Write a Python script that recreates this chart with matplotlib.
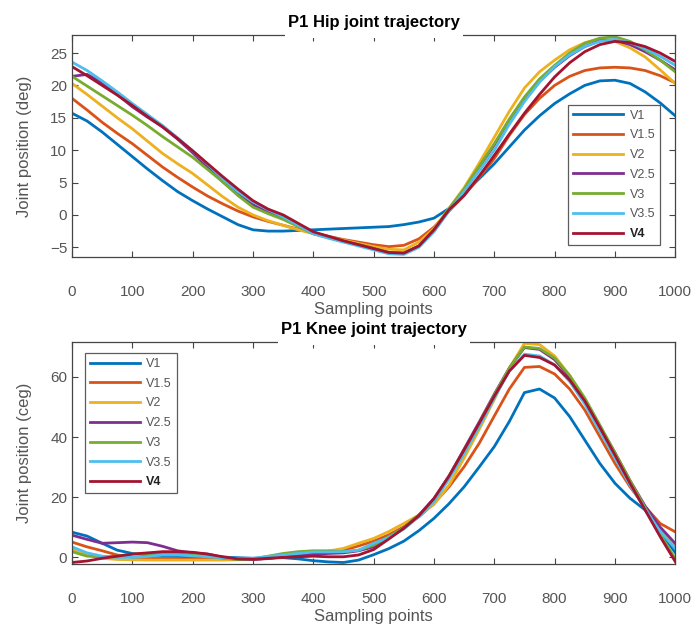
import matplotlib.pyplot as plt
from matplotlib.patches import Rectangle

plt.rcParams['font.family'] = ['Liberation Sans', 'DejaVu Sans']

# sampling points (every 25)
samples = list(range(0, 1001, 25))
labels = ['V1', 'V1.5', 'V2', 'V2.5', 'V3', 'V3.5', 'V4']
colors = ['#0072BD', '#D95319', '#EDB120', '#7E2F8E', '#77AC30', '#4DBEEE', '#A2142F']

# hip joint trajectory (deg)
hip_v1 = [15.7, 14.5, 12.8, 10.9, 9.0, 7.1, 5.3, 3.6, 2.2, 0.9, -0.3, -1.5, -2.3, -2.5, -2.5, -2.4, -2.3, -2.2, -2.1, -2.0,
          -1.9, -1.8, -1.5, -1.1, -0.5, 1.0, 3.3, 5.6, 7.9, 10.5, 13.1, 15.3, 17.2, 18.7, 20.0, 20.7, 20.8, 20.3, 19.0, 17.3, 15.3]
hip_v15 = [18.0, 16.2, 14.3, 12.6, 11.0, 9.2, 7.4, 5.8, 4.3, 2.9, 1.7, 0.6, -0.3, -1.0, -1.6, -2.2, -2.8, -3.3, -3.8, -4.2,
           -4.6, -4.9, -4.7, -3.7, -1.9, 0.6, 3.0, 5.8, 8.7, 12.3, 15.5, 18.0, 20.0, 21.4, 22.3, 22.7, 22.8, 22.7, 22.3, 21.5, 20.4]
hip_v2 = [20.3, 18.6, 16.8, 15.0, 13.3, 11.4, 9.5, 7.9, 6.4, 4.6, 2.8, 1.2, 0.0, -0.9, -1.6, -2.3, -2.9, -3.4, -3.9, -4.4,
          -4.9, -5.3, -5.4, -4.2, -2.1, 1.0, 4.2, 8.0, 12.0, 16.0, 19.6, 22.1, 23.9, 25.5, 26.6, 27.2, 26.8, 25.8, 24.4, 22.4, 20.3]
hip_v25 = [21.4, 21.7, 20.4, 18.6, 16.7, 15.1, 13.6, 11.7, 9.6, 7.3, 5.1, 3.2, 1.6, 0.4, -0.5, -1.6, -2.9, -3.5, -4.1, -4.6,
           -5.2, -5.8, -5.9, -4.8, -2.4, 0.8, 3.8, 7.4, 10.8, 14.7, 18.0, 20.6, 22.8, 24.6, 26.0, 26.9, 27.0, 26.3, 25.2, 23.9, 22.4]
hip_v3 = [21.4, 19.9, 18.4, 16.9, 15.4, 13.8, 12.1, 10.5, 8.9, 7.0, 5.1, 3.0, 1.2, 0.2, -0.7, -1.8, -2.9, -3.5, -4.1, -4.6,
          -5.2, -5.8, -5.9, -4.8, -2.3, 1.0, 4.0, 7.5, 11.0, 14.8, 18.2, 21.0, 23.1, 25.0, 26.5, 27.3, 27.5, 26.8, 25.5, 23.9, 22.1]
hip_v35 = [23.6, 22.3, 20.7, 19.0, 17.2, 15.5, 13.8, 11.9, 9.9, 7.8, 5.6, 3.6, 2.0, 0.8, -0.3, -1.6, -2.9, -3.6, -4.2, -4.8,
           -5.4, -6.0, -6.1, -5.0, -2.6, 0.6, 3.6, 6.8, 10.0, 14.0, 17.5, 20.5, 22.9, 24.7, 26.0, 26.8, 27.1, 26.6, 25.7, 24.5, 23.1]
hip_v4 = [22.9, 21.5, 20.0, 18.5, 16.9, 15.2, 13.6, 11.8, 9.9, 7.9, 5.9, 4.0, 2.2, 0.9, 0.0, -1.3, -2.6, -3.3, -4.0, -4.6,
          -5.2, -5.8, -5.9, -4.8, -2.3, 0.8, 3.0, 6.0, 9.2, 12.5, 15.7, 18.6, 21.3, 23.5, 25.2, 26.3, 26.8, 26.6, 26.0, 25.0, 23.7]

# knee joint trajectory (deg)
knee_v1 = [8.3, 7.0, 4.6, 2.3, 1.2, 0.7, 0.3, 0.2, 0.1, 0.1, 0.0, -0.2, -0.4, -0.3, -0.2, -0.6, -1.2, -1.6, -1.8, -1.0,
           0.8, 2.8, 5.3, 8.8, 12.9, 17.8, 23.4, 30.0, 36.8, 45.2, 54.8, 56.0, 53.0, 46.8, 39.0, 31.2, 24.6, 19.6, 15.7, 8.5, 1.5]
knee_v15 = [5.0, 3.4, 2.1, 0.7, -0.1, -0.4, -0.5, -0.6, -0.6, -0.7, -0.7, -0.8, -0.8, -0.4, 0.1, 0.7, 1.2, 1.5, 2.3, 3.7,
            5.3, 7.4, 10.1, 13.4, 17.9, 23.4, 30.1, 37.9, 47.0, 56.0, 63.2, 63.5, 61.0, 56.0, 49.0, 40.1, 31.2, 23.4, 16.8, 11.2, 8.4]
knee_v2 = [2.6, 0.7, -0.4, -0.8, -0.9, -1.0, -1.0, -1.0, -1.0, -1.0, -1.0, -0.9, -0.8, -0.4, 0.1, 0.7, 1.2, 2.0, 2.9, 4.6,
           6.2, 8.5, 11.2, 14.0, 17.5, 24.0, 33.0, 42.5, 52.5, 63.0, 71.2, 70.8, 67.0, 60.5, 52.5, 43.5, 34.3, 25.0, 16.5, 9.0, 3.0]
knee_v25 = [7.3, 5.9, 4.6, 4.8, 5.0, 4.8, 3.6, 2.1, 1.4, 1.0, -0.1, -0.8, -0.8, -0.5, 0.1, 0.7, 1.0, 1.2, 1.4, 2.1,
            3.4, 6.5, 9.8, 14.0, 19.5, 27.0, 36.0, 45.0, 54.3, 63.0, 69.8, 69.2, 65.8, 60.0, 52.5, 43.5, 34.8, 25.5, 17.0, 10.0, 4.5]
knee_v3 = [1.8, 0.3, 0.1, 0.3, 1.0, 1.2, 1.2, 1.0, 0.7, 0.3, -0.4, -0.8, -0.6, 0.3, 1.2, 1.8, 2.1, 2.1, 1.8, 2.3,
           4.0, 6.8, 9.8, 14.0, 19.0, 27.0, 35.5, 44.5, 54.0, 63.0, 70.0, 69.5, 66.3, 60.5, 53.0, 44.0, 34.8, 25.5, 16.5, 7.5, -0.5]
knee_v35 = [3.4, 1.4, 0.3, -0.1, -0.1, 0.2, 0.7, 0.7, 0.4, 0.1, -0.2, -0.4, -0.4, 0.2, 0.7, 1.2, 1.7, 1.7, 1.8, 2.3,
            4.6, 6.5, 9.3, 13.5, 18.5, 26.0, 34.5, 43.5, 53.0, 62.0, 67.6, 67.0, 64.0, 58.5, 51.0, 42.0, 33.0, 24.0, 16.0, 8.5, 2.9]
knee_v4 = [-1.8, -1.3, -0.4, 0.3, 1.0, 1.4, 1.8, 1.8, 1.6, 1.0, 0.1, -0.6, -0.7, -0.4, -0.1, 0.1, 0.3, 0.1, 0.1, 0.7,
           2.5, 6.0, 9.6, 13.8, 19.5, 27.0, 35.7, 44.6, 53.6, 62.0, 67.2, 66.5, 64.0, 59.0, 52.0, 43.2, 34.0, 24.6, 15.7, 6.8, -1.5]

hip = [hip_v1, hip_v15, hip_v2, hip_v25, hip_v3, hip_v35, hip_v4]
knee = [knee_v1, knee_v15, knee_v2, knee_v25, knee_v3, knee_v35, knee_v4]

fig = plt.figure(figsize=(6.95, 6.31), dpi=100)
ax1 = fig.add_axes([0.1036, 0.5927, 0.868, 0.352])
ax2 = fig.add_axes([0.1036, 0.1062, 0.868, 0.352])

gray = '#555555'


def style(ax, title, ylabel):
    ax.set_xlim(0, 1000)
    ax.set_xticks(range(0, 1001, 100))
    ax.tick_params(direction='in', top=True, right=True, length=4, width=0.8,
                   colors='#444444', labelcolor=gray, labelsize=11)
    ax.tick_params(axis='x', pad=20)
    for s in ax.spines.values():
        s.set_color('#444444')
        s.set_linewidth(0.9)
    ax.set_xlabel('Sampling points', fontsize=12, color=gray, labelpad=2)
    ax.set_ylabel(ylabel, fontsize=12, color=gray, labelpad=13)
    return ax.set_title(title, fontsize=12, fontweight='bold', pad=6)


def legend(ax, **kw):
    leg = ax.legend(handlelength=4.0, fontsize=9, frameon=True, fancybox=False,
                    borderpad=0.4, borderaxespad=0, labelspacing=0.62,
                    handletextpad=0.5, **kw)
    leg.get_frame().set_edgecolor('#333333')
    leg.get_frame().set_linewidth(0.9)
    for txt in leg.get_texts():
        txt.set_color(gray)
    leg.get_texts()[-1].set_fontweight('bold')
    leg.get_texts()[-1].set_color('#222222')


for vals, lab, c in zip(hip, labels, colors):
    ax1.plot(samples, vals, color=c, lw=2, label=lab)
t1 = style(ax1, 'P1 Hip joint trajectory', 'Joint position (deg)')
ax1.set_ylim(-6.5, 27.8)
ax1.set_yticks([-5, 0, 5, 10, 15, 20, 25])
ax1.set_yticklabels(['\u22125', '0', '5', '10', '15', '20', '25'])
legend(ax1, loc='lower right', bbox_to_anchor=(0.975, 0.054))

for vals, lab, c in zip(knee, labels, colors):
    ax2.plot(samples, vals, color=c, lw=2, label=lab)
t2 = style(ax2, 'P1 Knee joint trajectory', 'Joint position (ceg)')
ax2.set_ylim(-2.3, 71.7)
ax2.set_yticks([0, 20, 40, 60])
legend(ax2, loc='upper left', bbox_to_anchor=(0.0216, 0.95))

# the title box hides the top frame line under it, as in the source figure
fig.canvas.draw()
W, H = fig.bbox.width, fig.bbox.height
for ax, t in ((ax1, t1), (ax2, t2)):
    tb = t.get_window_extent()
    top = ax.get_window_extent().y1
    fig.add_artist(Rectangle(((tb.x0 - 3) / W, (top - 3) / H), (tb.width + 6) / W, 6 / H,
                             transform=fig.transFigure, facecolor='white',
                             edgecolor='none', zorder=5))

fig.savefig('out.png', dpi=100)
